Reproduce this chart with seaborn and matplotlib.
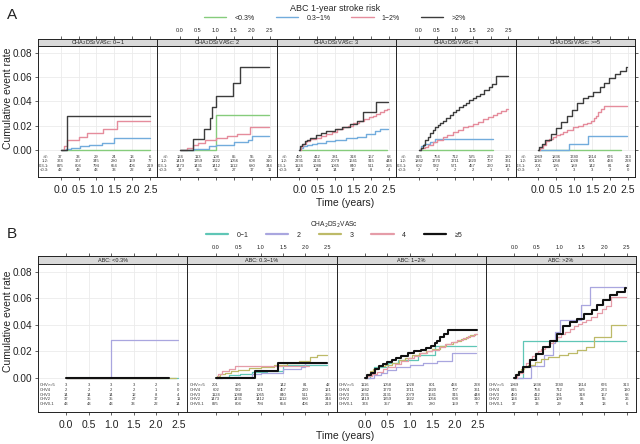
import matplotlib
matplotlib.use('Agg')
import matplotlib.pyplot as plt
from matplotlib.lines import Line2D
import seaborn as sns
import pandas as pd

sns.set_theme(style='white')
plt.rcParams['font.family'] = ['Liberation Sans', 'DejaVu Sans']

# ---- data -------------------------------------------------------------
cha_keys = ['0-1', '2', '3', '4', '5']
cha_strip = [r'CHA$_2$DS$_2$VASc: 0$-$1', r'CHA$_2$DS$_2$VASc: 2', r'CHA$_2$DS$_2$VASc: 3',
             r'CHA$_2$DS$_2$VASc: 4', r'CHA$_2$DS$_2$VASc: >=5']
cha_legend = ['0\u22121', '2', '3', '4', '\u22655']
cha_table = ['CHV>=5', 'CHV4', 'CHV3', 'CHV2', 'CHV0-1']

abc_names = ['<0.3%', '0.3\u22121%', '1\u22122%', '>2%']
abc_strip = ['ABC: <0.3%', 'ABC: 0.3\u22121%', 'ABC: 1\u22122%', 'ABC: >2%']
abc_table = ['>2:', '1-2:', '0.3-1:', '<0.3:']

risk_times = [0, 0.5, 1.0, 1.5, 2.0, 2.5]

# cumulative event rate curves (time in years, rate), one dict per ABC group
curves_lt03 = {
    '0-1': ([0, 2.48], [0, 0]),
    '2': ([0, 1.0, 2.48], [0, 0.0285, 0.0285]),
    '3': ([0, 2.45], [0, 0]),
    '4': ([0, 2.08], [0, 0]),
    '5': ([0, 2.3], [0, 0]),
}
curves_03_1 = {
    '0-1': ([0, 0.15, 0.3, 0.55, 0.8, 1.15, 1.5, 2.48],
            [0, 0.001, 0.002, 0.003, 0.0045, 0.0055, 0.0095, 0.0095]),
    '2': ([0, 0.4, 0.8, 1.0, 1.5, 1.9, 2.0, 2.48],
          [0, 0.001, 0.003, 0.004, 0.0065, 0.0085, 0.0113, 0.0113]),
    '3': ([0, 0.03, 0.1, 0.2, 0.35, 0.5, 0.75, 1.0, 1.3, 1.6, 1.85, 2.1, 2.25, 2.48],
          [0, 0.0015, 0.003, 0.004, 0.005, 0.006, 0.0075, 0.0085, 0.0095, 0.011, 0.013, 0.0155,
           0.0175, 0.0175]),
    '4': ([0, 0.05, 0.15, 0.3, 0.44, 2.08], [0, 0.003, 0.005, 0.0065, 0.0088, 0.0088]),
    '5': ([0, 0.87, 1.4, 2.48], [0, 0.0053, 0.0112, 0.0112]),
}
curves_1_2 = {
    '0-1': ([0, 0.1, 0.19, 0.51, 0.74, 1.18, 1.56, 2.48],
            [0, 0.003, 0.008, 0.011, 0.0137, 0.017, 0.024, 0.024]),
    '2': ([0, 0.2, 0.36, 0.5, 0.7, 1.0, 1.3, 1.6, 1.94, 2.48],
          [0, 0.002, 0.004, 0.006, 0.008, 0.01, 0.0115, 0.013, 0.0188, 0.0188]),
    '3': ([0, 0.04, 0.1, 0.18, 0.29, 0.45, 0.6, 0.75, 0.9, 1.05, 1.21, 1.35, 1.5, 1.67, 1.8,
           1.95, 2.05, 2.14, 2.25, 2.35, 2.45, 2.49],
          [0, 0.003, 0.005, 0.007, 0.0087, 0.010, 0.0115, 0.0133, 0.015, 0.017, 0.0187, 0.020,
           0.022, 0.024, 0.0255, 0.027, 0.028, 0.0293, 0.031, 0.0325, 0.0335, 0.0335]),
    '4': ([0, 0.05, 0.16, 0.27, 0.39, 0.5, 0.67, 0.8, 0.95, 1.1, 1.23, 1.38, 1.5, 1.65, 1.78,
           1.92, 2.06, 2.18, 2.29, 2.43, 2.49],
          [0, 0.0015, 0.0027, 0.0045, 0.0067, 0.0085, 0.0107, 0.0125, 0.0147, 0.0165, 0.0187,
           0.020, 0.0213, 0.023, 0.0253, 0.027, 0.029, 0.0305, 0.032, 0.0333, 0.0333]),
    '5': ([0, 0.05, 0.13, 0.22, 0.31, 0.4, 0.5, 0.6, 0.68, 0.8, 0.96, 1.1, 1.24, 1.35, 1.47,
           1.55, 1.61, 1.68, 1.75, 1.84, 2.49],
          [0, 0.002, 0.004, 0.007, 0.0093, 0.0105, 0.012, 0.0135, 0.0147, 0.0165, 0.0187, 0.020,
           0.0213, 0.0225, 0.024, 0.026, 0.028, 0.031, 0.0333, 0.036, 0.036]),
}
curves_gt2 = {
    '0-1': ([0, 0.19, 2.48], [0, 0.0282, 0.0282]),
    '2': ([0, 0.36, 0.66, 0.85, 0.9, 1.01, 1.49, 1.68, 2.48],
          [0, 0.0088, 0.0175, 0.026, 0.035, 0.044, 0.0553, 0.0685, 0.0685]),
    '3': ([0, 0.03, 0.08, 0.15, 0.22, 0.3, 0.45, 0.6, 0.75, 1.0, 1.2, 1.4, 1.6, 1.78, 2.15, 2.48],
          [0, 0.003, 0.005, 0.007, 0.0085, 0.0096, 0.012, 0.014, 0.016, 0.0175, 0.019, 0.021,
           0.0235, 0.031, 0.0398, 0.0398]),
    '4': ([0, 0.05, 0.11, 0.18, 0.25, 0.32, 0.39, 0.46, 0.53, 0.6, 0.67, 0.76, 0.86, 0.95, 1.04,
           1.12, 1.23, 1.32, 1.41, 1.5, 1.6, 1.7, 1.83, 1.95, 2.05, 2.15, 2.49],
          [0, 0.002, 0.004, 0.008, 0.011, 0.014, 0.0164, 0.019, 0.0205, 0.022, 0.0235, 0.026,
           0.029, 0.031, 0.033, 0.035, 0.037, 0.039, 0.041, 0.0425, 0.044, 0.046, 0.049, 0.052,
           0.054, 0.061, 0.061]),
    '5': ([0, 0.03, 0.1, 0.2, 0.35, 0.49, 0.64, 0.79, 0.94, 1.09, 1.24, 1.39, 1.54, 1.72, 1.83,
           1.98, 2.13, 2.28, 2.4, 2.46, 2.49],
          [0, 0.0025, 0.0047, 0.0084, 0.0133, 0.0183, 0.0232, 0.028, 0.033, 0.039, 0.0425, 0.0442,
           0.048, 0.0516, 0.055, 0.059, 0.0627, 0.0647, 0.065, 0.068, 0.068]),
}

# numbers at risk (at 0, 0.5, ..., 2.5 years)
risk_lt03 = {'0-1': [43, 43, 43, 33, 22, 14], '2': [37, 35, 35, 27, 17, 11],
             '3': [14, 14, 14, 12, 8, 4], '4': [2, 2, 2, 2, 1, 0], '5': [3, 3, 3, 3, 2, 0]}
risk_03_1 = {'0-1': [825, 804, 794, 654, 406, 219], '2': [1473, 1431, 1412, 1112, 680, 344],
             '3': [1124, 1088, 1065, 840, 511, 255], '4': [602, 582, 571, 457, 260, 121],
             '5': [201, 195, 189, 142, 81, 42]}
risk_1_2 = {'0-1': [374, 357, 345, 280, 159, 77], '2': [1419, 1359, 1322, 1056, 608, 310],
            '3': [2231, 2131, 2079, 1641, 915, 448], '4': [1842, 1770, 1711, 1320, 707, 361],
            '5': [1116, 1058, 1028, 801, 434, 228]}
risk_gt2 = {'0-1': [37, 33, 29, 24, 13, 6], '2': [124, 113, 108, 85, 55, 26],
            '3': [450, 412, 381, 318, 167, 68], '4': [815, 754, 712, 525, 273, 130],
            '5': [1969, 1836, 1740, 1314, 676, 313]}

abc_curves = [curves_lt03, curves_03_1, curves_1_2, curves_gt2]
abc_risk = [risk_lt03, risk_03_1, risk_1_2, risk_gt2]

abc_colors = ['#86cc7c', '#72acdc', '#e58c9c', '#3c3c3c']
cha_colors = ['#5fc6b6', '#a9a6df', '#bdba68', '#e59ca8', '#111111']

# ---- layout helpers ---------------------------------------------------
W, H = 640, 444
XLIM = (-0.63, 2.70)
XT = [0, 0.5, 1.0, 1.5, 2.0, 2.5]
YT = [0, 0.02, 0.04, 0.06, 0.08]


def fbox(x0, y0, x1, y1):
    return [x0 / W, 1 - y1 / H, (x1 - x0) / W, (y1 - y0) / H]


def step_line(ax, t, v, color, lw):
    df = pd.DataFrame({'time': t, 'rate': v})
    sns.lineplot(data=df, x='time', y='rate', ax=ax, color=color, lw=lw,
                 drawstyle='steps-post', estimator=None, sort=False)


def style_panel(ax, strip, k, n, ylim, label):
    ax.set_xlim(*XLIM)
    ax.set_ylim(*ylim)
    ax.set_xlabel('')
    ax.set_ylabel('')
    ax.vlines(XT, 0, ylim[1], color='#ebebeb', lw=0.6, zorder=0)
    ax.hlines(YT, XLIM[0], XLIM[1], color='#ebebeb', lw=0.6, zorder=0)
    for s in ax.spines.values():
        s.set_color('#222222')
        s.set_linewidth(0.7)
    ax.set_xticks(XT)
    ax.set_xticklabels([f'{x:.1f}' for x in XT] if k % 2 == 0 else [])
    ax.tick_params(axis='x', bottom=True, direction='out', length=2.5, width=0.5,
                   labelsize=7.5, pad=3, colors='#222222')
    ax.set_yticks(YT)
    ax.tick_params(axis='y', left=(k == 0), right=(k == n - 1), labelleft=(k == 0),
                   labelright=False, direction='out', length=2.5, width=0.5,
                   labelsize=7.2, pad=1.5, colors='#222222')
    if k == 0:
        ax.set_yticklabels([f'{y:.2f}' for y in YT])

    strip.set_facecolor('#d9d9d9')
    strip.set_xlim(*XLIM)
    strip.set_yticks([])
    for s in strip.spines.values():
        s.set_color('#222222')
        s.set_linewidth(0.7)
    strip.xaxis.tick_top()
    strip.set_xticks(XT)
    strip.set_xticklabels([f'{x:.1f}' for x in XT] if k % 2 == 1 else [])
    strip.tick_params(axis='x', top=True, bottom=False, direction='out', length=2.5,
                      width=0.5, labelsize=4, pad=1.5, colors='#222222')
    strip.text(0.5, 0.45, label, transform=strip.transAxes, ha='center', va='center',
               fontsize=4, color='#222222')


fig = plt.figure(figsize=(W / 100, H / 100), dpi=100)

# ---- panel A: one panel per CHA2DS2VASc group ------------------------
A_YLIM = (-0.0222, 0.0855)
aw = 119.4
for k, cha in enumerate(cha_keys):
    x0 = 38 + aw * k
    ax = fig.add_axes(fbox(x0, 46, x0 + aw, 177))
    strip = fig.add_axes(fbox(x0, 39, x0 + aw, 46))
    for i, curves in enumerate(abc_curves):
        t, v = curves[cha]
        step_line(ax, t, v, abc_colors[i], 1.0)
    style_panel(ax, strip, k, len(cha_keys), A_YLIM, cha_strip[k])
    for r, i in enumerate([3, 2, 1, 0]):
        yv = -0.0058 - 0.0035 * r
        ax.text(-0.33, yv, abc_table[r], ha='right', va='center', fontsize=3, color='#333333')
        for tx, nv in zip(risk_times, abc_risk[i][cha]):
            ax.text(tx, yv, str(nv), ha='center', va='center', fontsize=3, color='#333333')

# ---- panel B: one panel per ABC group --------------------------------
B_YLIM = (-0.0257, 0.086)
bw = 149.4
for j, curves in enumerate(abc_curves):
    x0 = 38 + bw * j
    ax = fig.add_axes(fbox(x0, 264, x0 + bw, 412))
    strip = fig.add_axes(fbox(x0, 256, x0 + bw, 264))
    for c, cha in enumerate(cha_keys):
        t, v = curves[cha]
        step_line(ax, t, v, cha_colors[c], 1.5 if cha == '5' else 0.9)
    style_panel(ax, strip, j, len(abc_curves), B_YLIM, abc_strip[j])
    for r, cha in enumerate(['5', '4', '3', '2', '0-1']):
        yv = -0.0055 - 0.0035 * r
        ax.text(-0.58, yv, cha_table[r], ha='left', va='center', fontsize=3, color='#333333')
        for tx, nv in zip(risk_times, abc_risk[j][cha]):
            ax.text(tx, yv, str(nv), ha='center', va='center', fontsize=3, color='#333333')

# ---- legends and labels ----------------------------------------------
hA = [Line2D([], [], color=c, lw=1.0) for c in abc_colors]
fig.legend(hA, abc_names, title='ABC 1-year stroke risk', loc='upper center',
           bbox_to_anchor=(335 / W, 1.0), ncol=4, frameon=False, fontsize=5,
           title_fontsize=6.5, handlelength=3.2, handletextpad=1.2, columnspacing=3.0,
           borderpad=0.1, labelspacing=0.2)
hB = [Line2D([], [], color=c, lw=1.6) for c in cha_colors]
fig.legend(hB, cha_legend, title=r'CHA$_2$DS$_2$VASc', loc='upper center',
           bbox_to_anchor=(334 / W, 1 - 216 / H), ncol=5, frameon=False, fontsize=5,
           title_fontsize=4.8, handlelength=3.2, handletextpad=1.2, columnspacing=2.6,
           borderpad=0.1, labelspacing=0.2)

for y in (98, 321):
    fig.text(8 / W, 1 - y / H, 'Cumulative event rate', rotation=90, ha='center',
             va='center', fontsize=7.5, color='#222222')
for y in (203, 436):
    fig.text(345 / W, 1 - y / H, 'Time (years)', ha='center', va='center', fontsize=7.5,
             color='#222222')
fig.text(12 / W, 1 - 15 / H, 'A', ha='center', va='center', fontsize=11, color='#222222')
fig.text(12 / W, 1 - 234 / H, 'B', ha='center', va='center', fontsize=11, color='#222222')

fig.savefig('out.png', dpi=100)
